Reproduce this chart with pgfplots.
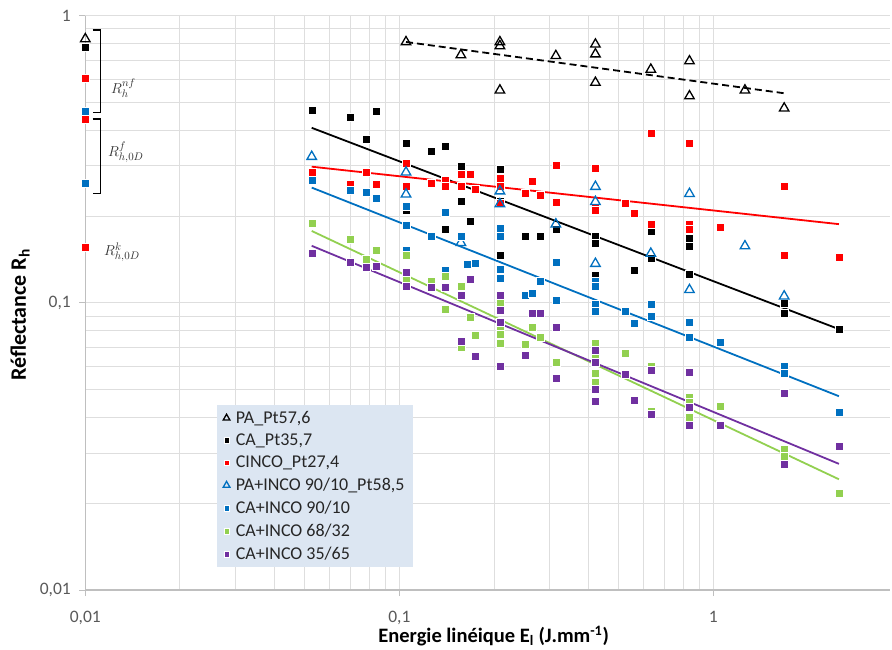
\documentclass[border=0pt]{standalone}
\usepackage{fontspec}
\setmainfont{Carlito}
\usepackage{pgfplots}
\pgfplotsset{compat=1.18}
\definecolor{cred}{HTML}{FF0000}
\definecolor{cblue}{HTML}{0070C0}
\definecolor{cgreen}{HTML}{92D050}
\definecolor{cpurple}{HTML}{7030A0}
\definecolor{legfill}{HTML}{DCE6F2}
\definecolor{gridc}{HTML}{DEDEDE}
\definecolor{tickc}{HTML}{595959}
\definecolor{axc}{HTML}{BFBFBF}
\definecolor{annc}{HTML}{303030}
\pgfplotsset{
  sq/.style={only marks, mark=square*, mark size=4pt, mark options={draw=white, line width=0.4pt, fill=#1}, color=#1},
  tri/.style={only marks, mark=triangle, mark size=5.5pt, mark options={draw=#1, line width=1.3pt, solid, fill=none}, color=#1},
  trend/.style={no marks, line width=1.8pt, color=#1, forget plot},
}
\begin{document}
\begin{tikzpicture}
\begin{axis}[
  name=ax, at={(0,0)}, anchor=south west,
  scale only axis, width=804.7pt, height=574.3pt,
  xmode=log, ymode=log,
  xmin=0.01, xmax=3.65, ymin=0.01, ymax=1,
  xtick={0.01,0.1,1}, xticklabels={{0,01},{0,1},{1}},
  ytick={0.01,0.1,1}, yticklabels={{0,01},{0,1},{1}},
  grid=both,
  major grid style={draw=gridc, line width=0.8pt},
  minor grid style={draw=gridc, line width=0.8pt},
  axis line style={draw=none},
  tick align=outside, major tick length=6pt, minor tick length=0pt,
  tick pos=left,
  major tick style={draw=axc, line width=0.8pt},
  tick label style={font=\fontsize{17.5}{20}\selectfont, text=tickc},
  yticklabel style={xshift=-5pt},
  xticklabel style={yshift=-12pt},
  xlabel={\textbf{Energie linéique E\textsubscript{l} (J.mm\textsuperscript{-1})}},
  ylabel={\textbf{Réflectance R\textsubscript{h}}},
  xlabel style={font=\fontsize{20.5}{24}\selectfont, text=black, at={(axis description cs:0.5,-0.0801)}, anchor=center, xshift=6pt},
  ylabel style={font=\fontsize{22}{26}\selectfont, text=black, at={(axis description cs:-0.081,0.479)}, anchor=center},
  clip=false,
  legend style={at={(0.1637,0.3221)}, anchor=north west, fill=legfill, draw=none,
    font=\fontsize{18}{22}\selectfont, text=black!85, inner xsep=6pt, inner ysep=4pt,
    row sep=5pt, cells={anchor=west},
    /tikz/every odd column/.append style={column sep=4pt}},
  legend image code/.code={\draw[mark repeat=2,mark phase=2,/tikz/every mark/.append style={scale=0.7}] plot coordinates {(0pt,0pt) (5pt,0pt) (10pt,0pt)};},
]
\draw[axc, line width=1.2pt] (rel axis cs:0,1) -- (rel axis cs:0,0) -- (rel axis cs:1,0);

% PA_Pt57,6
\addplot[tri=black] coordinates {
(0.01,0.83) (0.105,0.81) (0.157,0.73) (0.209,0.81) (0.209,0.785) (0.209,0.55)
(0.315,0.725) (0.421,0.795) (0.421,0.735) (0.421,0.585) (0.632,0.65)
(0.839,0.695) (0.839,0.525) (1.26,0.55) (1.68,0.476)};
\addlegendentry{PA\_Pt57,6}

% CA_Pt35,7
\addplot[sq=black] coordinates {
(0.01,0.774) (0.0526,0.469) (0.070,0.444) (0.0787,0.373) (0.0843,0.464)
(0.105,0.359) (0.105,0.211) (0.126,0.337) (0.140,0.352) (0.157,0.298) (0.157,0.2255)
(0.140,0.180) (0.168,0.192) (0.209,0.292) (0.209,0.226) (0.209,0.147)
(0.252,0.171) (0.281,0.171) (0.315,0.181) (0.421,0.170) (0.421,0.161)
(0.421,0.125) (0.560,0.130) (0.632,0.178) (0.632,0.143) (0.839,0.168)
(0.839,0.157) (0.839,0.1256) (1.68,0.0995) (1.68,0.092) (2.51,0.081)};
\addlegendentry{CA\_Pt35,7}

% CINCO_Pt27,4
\addplot[sq=cred] coordinates {
(0.01,0.605) (0.01,0.437) (0.01,0.156) (0.0526,0.284) (0.070,0.259)
(0.0787,0.285) (0.0843,0.259) (0.105,0.306) (0.105,0.254) (0.126,0.262)
(0.140,0.268) (0.140,0.254) (0.157,0.281) (0.157,0.254) (0.168,0.280)
(0.174,0.248) (0.209,0.271) (0.209,0.254) (0.209,0.223) (0.252,0.240)
(0.264,0.266) (0.281,0.237) (0.315,0.302) (0.315,0.224) (0.421,0.295)
(0.421,0.216) (0.421,0.21) (0.523,0.2225) (0.560,0.206) (0.632,0.390)
(0.632,0.1875) (0.839,0.359) (0.839,0.188) (0.839,0.181) (1.05,0.1835)
(1.68,0.254) (1.68,0.146) (2.51,0.144)};
\addlegendentry{CINCO\_Pt27,4}

% PA+INCO 90/10_Pt58,5
\addplot[tri=cblue] coordinates {
(0.0526,0.323) (0.105,0.285) (0.105,0.239) (0.157,0.162) (0.209,0.245)
(0.209,0.221) (0.315,0.188) (0.421,0.254) (0.421,0.225) (0.421,0.137)
(0.632,0.1486) (0.839,0.240) (0.839,0.111) (1.26,0.1577) (1.68,0.1055)};
\addlegendentry{PA+INCO 90/10\_Pt58,5}

% CA+INCO 90/10
\addplot[sq=cblue] coordinates {
(0.01,0.466) (0.01,0.261) (0.0526,0.268) (0.070,0.246) (0.0787,0.243)
(0.0843,0.231) (0.105,0.217) (0.105,0.186) (0.105,0.152) (0.126,0.170)
(0.140,0.2065) (0.140,0.130) (0.157,0.170) (0.165,0.136) (0.174,0.137)
(0.209,0.1817) (0.209,0.171) (0.209,0.1307) (0.209,0.122) (0.252,0.106)
(0.264,0.108) (0.281,0.119) (0.315,0.1386) (0.315,0.102) (0.421,0.119)
(0.421,0.114) (0.421,0.099) (0.421,0.0933) (0.523,0.0935) (0.560,0.0852)
(0.632,0.099) (0.632,0.0899) (0.839,0.0854) (0.839,0.0761) (1.05,0.073)
(1.68,0.0602) (1.68,0.0568) (2.51,0.0417)};
\addlegendentry{CA+INCO 90/10}

% CA+INCO 68/32
\addplot[sq=cgreen] coordinates {
(0.0526,0.189) (0.070,0.1667) (0.0787,0.1417) (0.0843,0.1527) (0.105,0.146)
(0.105,0.12) (0.126,0.119) (0.140,0.124) (0.140,0.0948) (0.157,0.114)
(0.157,0.0703) (0.168,0.0894) (0.174,0.077) (0.209,0.1) (0.209,0.0814)
(0.209,0.078) (0.209,0.0722) (0.252,0.0718) (0.264,0.0825) (0.281,0.0761)
(0.315,0.0621) (0.421,0.0722) (0.421,0.0648) (0.421,0.0569) (0.421,0.053)
(0.523,0.0667) (0.632,0.060) (0.632,0.042) (0.839,0.047) (0.839,0.045)
(0.839,0.0401) (1.05,0.0438) (1.68,0.0309) (1.68,0.0292) (2.51,0.0217)};
\addlegendentry{CA+INCO 68/32}

% CA+INCO 35/65
\addplot[sq=cpurple] coordinates {
(0.0526,0.1486) (0.070,0.1386) (0.0787,0.1328) (0.0843,0.134) (0.105,0.128)
(0.105,0.114) (0.126,0.113) (0.140,0.113) (0.157,0.106) (0.168,0.1206)
(0.157,0.0737) (0.174,0.0654) (0.209,0.106) (0.209,0.0943) (0.209,0.0859)
(0.209,0.0602) (0.252,0.0655) (0.264,0.0923) (0.281,0.0923) (0.315,0.0825)
(0.315,0.0547) (0.421,0.0684) (0.421,0.0619) (0.421,0.0501) (0.421,0.0454)
(0.523,0.0566) (0.560,0.0457) (0.632,0.0581) (0.632,0.0408) (0.839,0.0572)
(0.839,0.0434) (0.839,0.0374) (1.05,0.0375) (1.68,0.0483) (1.68,0.0274)
(2.51,0.0316)};
\addlegendentry{CA+INCO 35/65}

% trend lines
\addplot[trend=black, dash pattern=on 7pt off 4pt] coordinates {(0.105,0.81) (1.68,0.537)};
\addplot[trend=black] coordinates {(0.0526,0.407) (2.51,0.081)};
\addplot[trend=cred] coordinates {(0.0526,0.298) (2.51,0.188)};
\addplot[trend=cblue] coordinates {(0.0526,0.252) (2.51,0.0473)};
\addplot[trend=cgreen] coordinates {(0.0526,0.178) (2.51,0.0243)};
\addplot[trend=cpurple] coordinates {(0.0526,0.158) (2.51,0.0275)};

% brackets and labels
\draw[black, line width=1.2pt] (axis cs:0.01056,0.8916) -- (axis cs:0.01116,0.8916) -- (axis cs:0.01116,0.459) -- (axis cs:0.01056,0.459);
\draw[black, line width=1.2pt] (axis cs:0.01056,0.4365) -- (axis cs:0.01116,0.4365) -- (axis cs:0.01116,0.2405) -- (axis cs:0.01056,0.2405);
\node[anchor=west, inner sep=0pt, text=annc, font=\fontsize{15}{17}\selectfont] at (axis cs:0.01207,0.56) {$R_h^{nf}$};
\node[anchor=west, inner sep=0pt, text=annc, font=\fontsize{15}{17}\selectfont] at (axis cs:0.01181,0.335) {$R^f_{h,0D}$};
\node[anchor=west, inner sep=0pt, text=annc, font=\fontsize{15}{17}\selectfont] at (axis cs:0.01147,0.1502) {$R^k_{h,0D}$};
\end{axis}
\pgfresetboundingbox
\path ([xshift=-85.3pt,yshift=-59pt]ax.south west) rectangle ([xshift=2pt,yshift=15.7pt]ax.north east);
\end{tikzpicture}
\end{document}
